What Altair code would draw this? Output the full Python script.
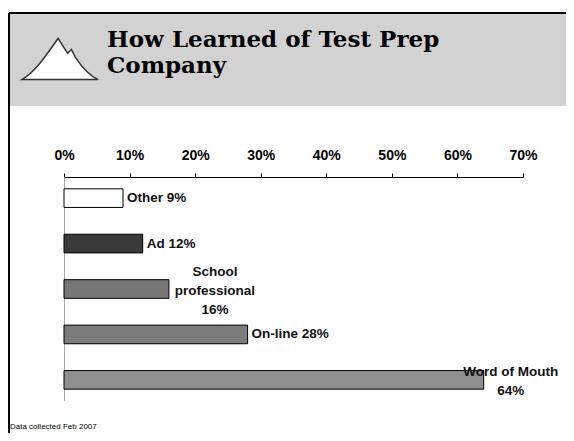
import altair as alt
import pandas as pd

# ---- data ----
categories = ["Other", "Ad", "School professional", "On-line", "Word of Mouth"]
values = [0.09, 0.12, 0.16, 0.28, 0.64]
labels = ["Other 9%", "Ad 12%", "School\nprofessional\n16%", "On-line 28%", "Word of Mouth\n64%"]
bar_colors = ["#ffffff", "#3a3a3a", "#767676", "#7c7c7c", "#8f8f8f"]
tick_values = [0, 0.1, 0.2, 0.3, 0.4, 0.5, 0.6, 0.7]
title_lines = ["How Learned of Test Prep", "Company"]
footnote = "Data collected Feb 2007"

df = pd.DataFrame({"category": categories, "value": values, "label": labels})

W, H = 459, 224

x_enc = alt.X(
    "value:Q",
    scale=alt.Scale(domain=[0, 0.7], nice=False, zero=True),
    axis=alt.Axis(
        orient="top", format="%", values=tick_values, grid=False, title=None,
        tickSize=4, tickColor="#000000", domainColor="#000000", domainWidth=1,
        labelFont="Liberation Sans", labelFontWeight="bold", labelFontSize=14,
        labelColor="#000000", labelPadding=11, labelFlush=False,
    ),
)
y_enc = alt.Y(
    "category:N", sort=categories,
    scale=alt.Scale(paddingInner=0.59, paddingOuter=0.26),
    axis=alt.Axis(labels=False, ticks=False, title=None, domainColor="#555555",
                  domainDash=[1, 1], domainWidth=1),
)

base = alt.Chart(df)

bars = base.mark_bar(stroke="#000000", strokeWidth=1).encode(
    x=x_enc, y=y_enc,
    color=alt.Color("category:N", scale=alt.Scale(domain=categories, range=bar_colors), legend=None),
)

txt_style = dict(font="Liberation Sans", fontWeight="bold", fontSize=13.5, color="#111111",
                 lineBreak="\n", lineHeight=19)

lab_simple = base.transform_filter(
    alt.FieldOneOfPredicate(field="category", oneOf=["Other", "Ad", "On-line"])
).mark_text(align="left", baseline="middle", dx=4, **txt_style).encode(
    x="value:Q", y=alt.Y("category:N", sort=categories), text="label:N")

lab_school = base.transform_filter(
    alt.FieldEqualPredicate(field="category", equal="School professional")
).mark_text(align="center", baseline="middle", dx=46, dy=-17, **txt_style).encode(
    x="value:Q", y=alt.Y("category:N", sort=categories), text="label:N")

lab_wom = base.transform_filter(
    alt.FieldEqualPredicate(field="category", equal="Word of Mouth")
).mark_text(align="center", baseline="middle", dx=27, dy=-8, **txt_style).encode(
    x="value:Q", y=alt.Y("category:N", sort=categories), text="label:N")

# ---- slide decoration (header band, frame, logo, title, footnote) ----
one = pd.DataFrame({"k": [0]})
deco = alt.Chart(one)

band = deco.mark_rect(color="#d2d2d2", clip=False).encode(
    x=alt.value(-54), x2=alt.value(520), y=alt.value(-163), y2=alt.value(-71))
frame_top = deco.mark_rule(color="#000000", strokeWidth=2, clip=False).encode(
    x=alt.value(-55), x2=alt.value(520), y=alt.value(-164))
frame_left = deco.mark_rule(color="#000000", strokeWidth=2, clip=False).encode(
    x=alt.value(-55), y=alt.value(-164), y2=alt.value(260))

mountain = ("M-1,0.54 C-0.6,0.3 -0.3,-0.2 -0.05,-0.54 L0.2,-0.15 L0.3,-0.25 "
            "L0.4,-0.05 C0.6,0.25 0.8,0.45 1,0.54 Z")
logo = deco.mark_point(shape=mountain, filled=True, fill="#ffffff", stroke="#333333",
                       strokeWidth=1.5, size=5800, opacity=1, clip=False).encode(
    x=alt.value(-4), y=alt.value(-118))

title_style = dict(font="DejaVu Serif", fontWeight="bold", fontSize=23, color="#000000",
                   align="left", baseline="alphabetic", clip=False)
t1 = deco.mark_text(text=title_lines[0], **title_style).encode(x=alt.value(43), y=alt.value(-130))
t2 = deco.mark_text(text=title_lines[1], **title_style).encode(x=alt.value(43), y=alt.value(-104))

foot = deco.mark_text(text=footnote, font="Liberation Sans", fontSize=8, color="#000000",
                      align="left", baseline="middle", clip=False).encode(
    x=alt.value(-54), y=alt.value(250))

chart = alt.layer(
    band, frame_top, frame_left, logo, t1, t2, foot,
    bars, lab_simple, lab_school, lab_wom,
).properties(
    width=W, height=H,
    autosize=alt.AutoSizeParams(type="none"),
    padding={"left": 56, "top": 169, "right": 43, "bottom": 32},
    background="#ffffff",
).configure_view(stroke=None)

chart.save("out.html", embed_options={"renderer": "svg", "actions": False})
